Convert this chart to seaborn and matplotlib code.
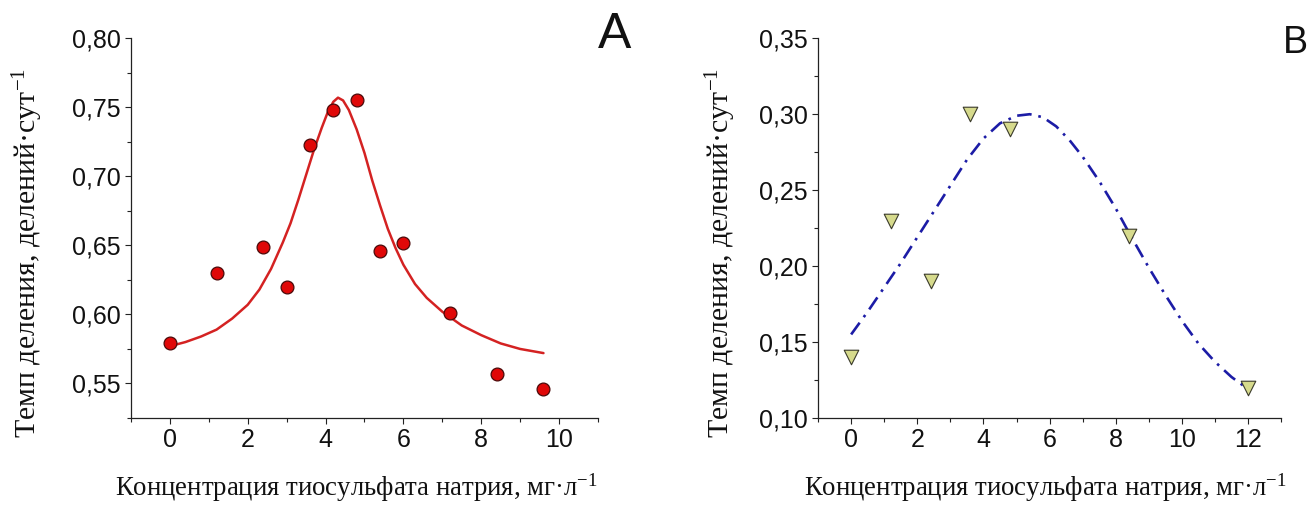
"""
Division rate vs sodium thiosulfate concentration, two panels (A, B).
"""
import numpy as np
import pandas as pd
import matplotlib
matplotlib.use("Agg")
import matplotlib.pyplot as plt
import seaborn as sns
from matplotlib.ticker import MultipleLocator

# Panel A: measured points
conc_a = [0.0, 1.2, 2.4, 3.0, 3.6, 4.2, 4.8, 5.4, 6.0, 7.2, 8.4, 9.6]
rate_a = [0.579, 0.630, 0.649, 0.620, 0.723, 0.748, 0.755, 0.646, 0.652, 0.601, 0.557, 0.546]

# Panel A: fitted curve
fit_x_a = [0.0, 0.4, 0.8, 1.2, 1.6, 2.0, 2.3, 2.6, 2.9, 3.1, 3.3, 3.5, 3.7,
           3.9, 4.05, 4.2, 4.32, 4.45, 4.6, 4.8, 5.0, 5.2, 5.4, 5.6, 5.8,
           6.0, 6.3, 6.6, 7.0, 7.5, 8.0, 8.5, 9.0, 9.6]
fit_y_a = [0.577, 0.580, 0.584, 0.589, 0.597, 0.607, 0.618, 0.633, 0.652, 0.666, 0.683, 0.701, 0.719,
           0.735, 0.746, 0.754, 0.757, 0.755, 0.748, 0.734, 0.717, 0.697, 0.679, 0.662, 0.648,
           0.636, 0.622, 0.612, 0.602, 0.592, 0.585, 0.579, 0.575, 0.572]

# Panel B: measured points
conc_b = [0.0, 1.2, 2.4, 3.6, 4.8, 8.4, 12.0]
rate_b = [0.140, 0.230, 0.190, 0.300, 0.290, 0.220, 0.120]

# Panel B: fitted curve
fit_x_b = [0.0, 0.5, 1.0, 1.5, 2.0, 2.5, 3.0, 3.5, 4.0, 4.5, 5.0, 5.4, 5.8,
           6.2, 6.6, 7.0, 7.5, 8.0, 8.4, 9.0, 9.5, 10.0, 10.5, 11.0, 11.5, 12.0]
fit_y_b = [0.155, 0.170, 0.186, 0.202, 0.219, 0.236, 0.253, 0.270, 0.284, 0.294, 0.299, 0.300, 0.298,
           0.292, 0.283, 0.272, 0.256, 0.238, 0.222, 0.199, 0.181, 0.164, 0.149, 0.137, 0.127, 0.119]

# Tick labels (comma decimals, as in the original)
xticks_a = [0, 2, 4, 6, 8, 10]
yticks_a = [0.55, 0.60, 0.65, 0.70, 0.75, 0.80]
ylabels_a = ["0,55", "0,60", "0,65", "0,70", "0,75", "0,80"]
xticks_b = [0, 2, 4, 6, 8, 10, 12]
yticks_b = [0.10, 0.15, 0.20, 0.25, 0.30, 0.35]
ylabels_b = ["0,10", "0,15", "0,20", "0,25", "0,30", "0,35"]

xlabel = "Концентрация тиосульфата натрия, мг·л$^{-1}$"
ylabel = "Темп деления, делений·сут$^{-1}$"

sns.set_style("ticks")
plt.rcParams["font.family"] = ["Liberation Sans", "DejaVu Sans"]
plt.rcParams["mathtext.fontset"] = "custom"
plt.rcParams["mathtext.rm"] = "Liberation Serif"
plt.rcParams["mathtext.it"] = "Liberation Serif"

SERIF = ["Liberation Serif", "DejaVu Serif"]

fig = plt.figure(figsize=(13.11, 5.05), dpi=100)
ax_a = fig.add_axes([0.0999, 0.1723, 0.3562, 0.7519])
ax_b = fig.add_axes([0.6240, 0.1723, 0.3532, 0.7519])

# Panel A
sns.lineplot(x=fit_x_a, y=fit_y_a, ax=ax_a, color="#d42222", linewidth=1.8,
             errorbar=None, sort=False)
sns.scatterplot(x=conc_a, y=rate_a, ax=ax_a, marker="o", s=85, color="#e00808",
                edgecolor="#4a0a0a", linewidth=0.9, zorder=3)

# Panel B
sns.lineplot(x=fit_x_b, y=fit_y_b, ax=ax_b, color="#1c1ca6", linewidth=1.9,
             errorbar=None, sort=False, linestyle=(0, (5.5, 2.6, 1, 2.6)))
sns.scatterplot(x=conc_b, y=rate_b, ax=ax_b, marker="v", s=110, color="#d6da8c",
                edgecolor="#3a3a2a", linewidth=0.8, zorder=3)

for ax, xt, yt, yl, xlim, ylim in [
    (ax_a, xticks_a, yticks_a, ylabels_a, (-1, 11), (0.525, 0.80)),
    (ax_b, xticks_b, yticks_b, ylabels_b, (-1, 13), (0.10, 0.35)),
]:
    ax.set_xlim(*xlim)
    ax.set_ylim(*ylim)
    ax.set_xticks(xt)
    ax.set_yticks(yt)
    ax.set_yticklabels(yl)
    ax.xaxis.set_minor_locator(MultipleLocator(1))
    ax.yaxis.set_minor_locator(MultipleLocator(0.025))
    sns.despine(ax=ax)
    for side in ["left", "bottom"]:
        ax.spines[side].set_linewidth(0.9)
        ax.spines[side].set_color("#222222")
    ax.tick_params(which="major", direction="out", length=4.5, width=0.8,
                   color="#222222", labelsize=18, pad=3, labelcolor="#111111")
    ax.tick_params(which="minor", direction="out", length=2.6, width=0.8,
                   color="#222222")
    ax.set_xlabel("")
    ax.set_ylabel("")

# Axis titles (serif, as in the original)
fig.text(0.2715, 0.035, xlabel, ha="center", va="center", fontsize=19.3,
         family=SERIF, color="#111111")
fig.text(0.0215, 0.50, ylabel, ha="center", va="center", rotation=90,
         fontsize=21.5, family=SERIF, color="#111111")
fig.text(0.7975, 0.035, xlabel, ha="center", va="center", fontsize=19.3,
         family=SERIF, color="#111111")
fig.text(0.5500, 0.50, ylabel, ha="center", va="center", rotation=90,
         fontsize=21.5, family=SERIF, color="#111111")

# Panel letters
fig.text(0.4685, 0.931, "A", ha="center", va="center", fontsize=36, color="#111111")
fig.text(0.9885, 0.915, "B", ha="center", va="center", fontsize=27, color="#111111")

fig.savefig("out.png", dpi=100)
